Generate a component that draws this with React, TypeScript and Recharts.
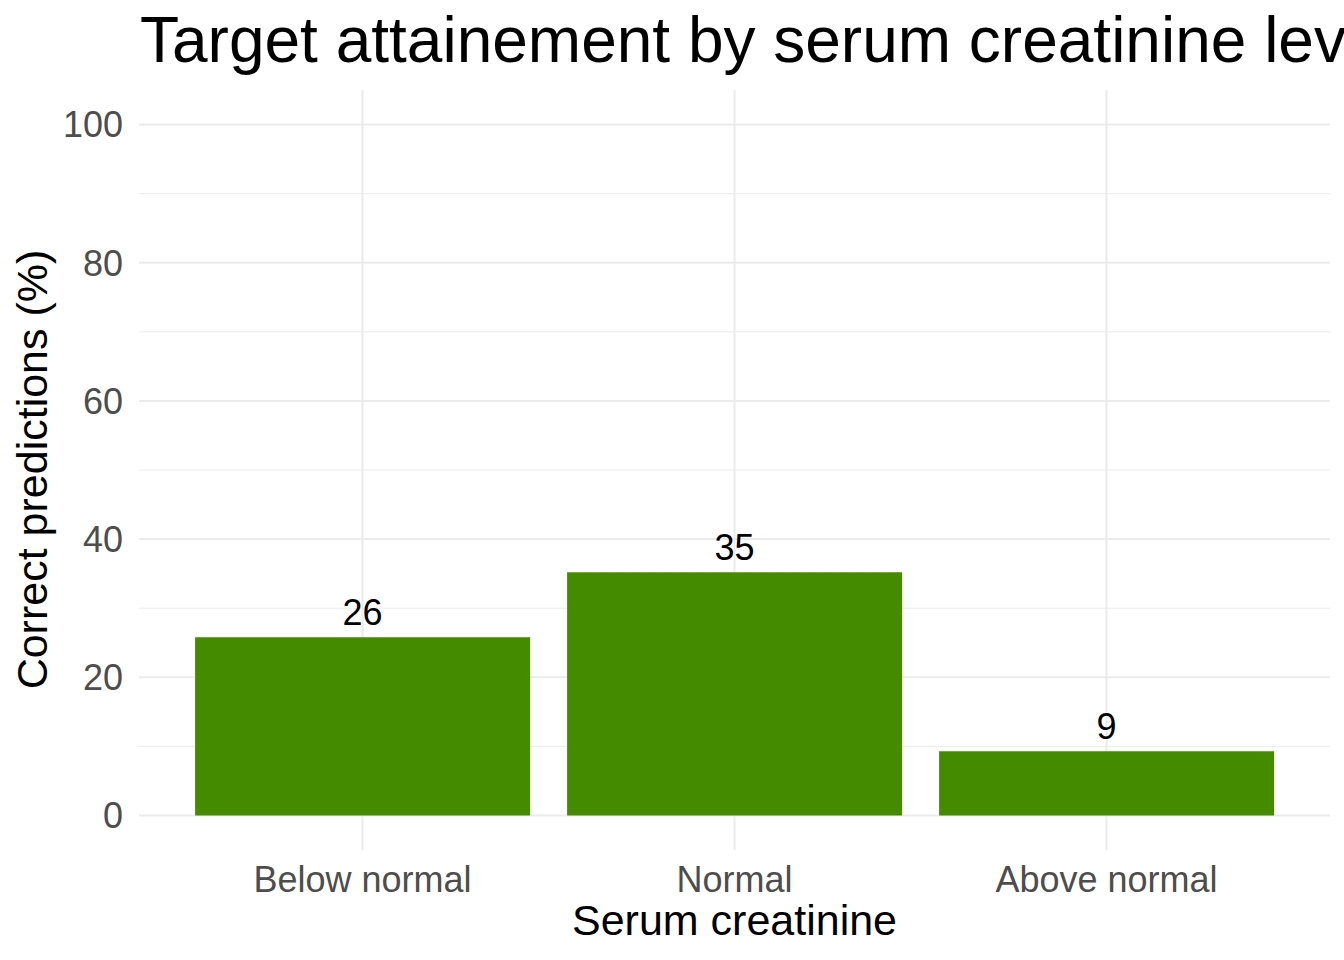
import { BarChart, Bar, XAxis, YAxis, CartesianGrid, LabelList } from 'recharts';

const categories = ['Below normal', 'Normal', 'Above normal'];
const correctPct = [25.8, 35.2, 9.3];
const majorTicks = [0, 20, 40, 60, 80, 100];
const minorTicks = [10, 30, 50, 70, 90];

const data = categories.map((c, i) => ({ group: c, pct: correctPct[i] }));

const FONT = '"Liberation Sans", Arial, sans-serif';

const App = () => {
  return (
    <div style={{ position: 'absolute', left: 0, top: 0, width: 1344, height: 960, background: '#fff', overflow: 'hidden', fontFamily: FONT }}>
      <BarChart
        width={1344}
        height={960}
        data={data}
        margin={{ top: 90, right: 14, left: 0, bottom: 0 }}
        barCategoryGap="5%"
      >
        {/* minor grid */}
        <CartesianGrid
          vertical={false}
          horizontalValues={minorTicks}
          stroke="#EBEBEB"
          strokeWidth={1}
        />
        {/* major grid */}
        <CartesianGrid
          syncWithTicks
          horizontalValues={majorTicks}
          verticalValues={categories}
          stroke="#EBEBEB"
          strokeWidth={2}
        />
        <XAxis
          dataKey="group"
          height={110}
          padding={{ left: 37.5, right: 37.5 }}
          axisLine={false}
          tickLine={false}
          tickSize={0}
          tickMargin={16}
          tick={{ fontSize: 36, fill: '#4D4D4D', fontFamily: FONT }}
        />
        <YAxis
          width={139}
          domain={[-5, 105]}
          ticks={majorTicks}
          allowDataOverflow
          axisLine={false}
          tickLine={false}
          tickSize={0}
          tickMargin={16}
          tick={{ fontSize: 36, fill: '#4D4D4D', fontFamily: FONT }}
        />
        <Bar dataKey="pct" fill="#458B00" isAnimationActive={false}>
          <LabelList
            dataKey="pct"
            position="top"
            offset={12}
            formatter={(v: any) => Math.round(Number(v))}
            style={{ fontSize: 36, fill: '#000', fontFamily: FONT }}
          />
        </Bar>
      </BarChart>

      <svg width={1344} height={960} style={{ position: 'absolute', left: 0, top: 0, pointerEvents: 'none' }}>
        <text x={140} y={62} fontSize={64} fill="#000" fontFamily={FONT}>
          Target attainement by serum creatinine level
        </text>
        <text x={734.5} y={935} fontSize={43} fill="#000" textAnchor="middle" fontFamily={FONT}>
          Serum creatinine
        </text>
        <text
          x={47}
          y={469.5}
          fontSize={43}
          fill="#000"
          textAnchor="middle"
          fontFamily={FONT}
          transform="rotate(-90 47 469.5)"
        >
          Correct predictions (%)
        </text>
      </svg>
    </div>
  );
};

export default App;
